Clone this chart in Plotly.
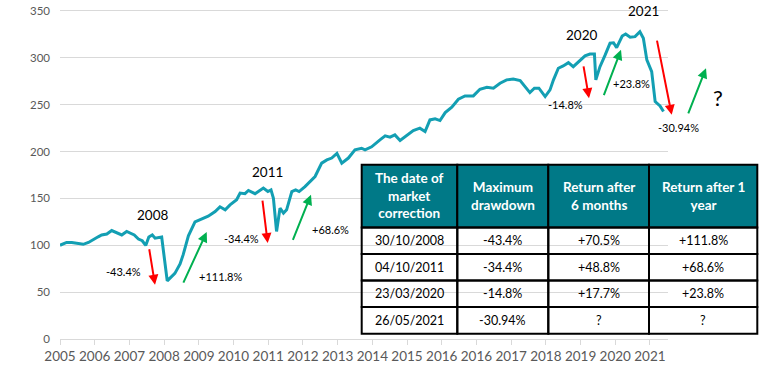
import plotly.graph_objects as go

# ---------------- data ----------------
tick_labels = ["2005", "2006", "2007", "2008", "2009", "2010", "2011", "2012", "2013",
               "2014", "2015", "2016", "2016", "2017", "2018", "2019", "2020", "2021"]

# position along the category axis (one unit per label) and index value
t_pos = [0.00, 0.19, 0.34, 0.58, 0.67, 0.82, 1.01, 1.10, 1.20, 1.35, 1.49, 1.63, 1.78, 1.92,
         2.02, 2.14, 2.26, 2.37, 2.47, 2.56, 2.66, 2.74, 2.93, 3.09, 3.31, 3.46, 3.55, 3.70,
         3.89, 4.08, 4.27, 4.47, 4.61, 4.76, 4.90, 5.09, 5.19, 5.33, 5.43, 5.62, 5.76, 5.86,
         5.99, 6.08, 6.15, 6.24, 6.34, 6.44, 6.53, 6.68, 6.79, 6.89, 7.06, 7.20, 7.35, 7.54,
         7.69, 7.83, 7.98, 8.12, 8.31, 8.50, 8.69, 8.79, 8.98, 9.22, 9.37, 9.51, 9.65, 9.80,
         9.99, 10.18, 10.37, 10.52, 10.66, 10.81, 10.95, 11.10, 11.29, 11.48, 11.67, 11.91,
         12.10, 12.30, 12.49, 12.68, 12.87, 13.06, 13.26, 13.40, 13.54, 13.67, 13.80, 13.98,
         14.12, 14.22, 14.36, 14.50, 14.65, 14.79, 14.94, 15.13, 15.27, 15.40, 15.44, 15.56,
         15.71, 15.85, 15.95, 16.04, 16.20, 16.30, 16.43, 16.57, 16.71, 16.81, 16.91, 17.05,
         17.15, 17.29, 17.39]
index_value = [100, 103, 103, 102, 101, 103, 107.6, 109, 111, 112, 115.7, 113.6, 111, 114.7,
               113, 111, 106.6, 104.8, 99.8, 108.7, 111, 107.6, 108.7, 62, 70, 80, 90, 110,
               125, 128, 131, 136, 141, 137.8, 143, 148.5, 155.6, 155, 158.4, 155, 158.4, 161,
               157.3, 159, 150, 114.7, 139.6, 134.3, 137.8, 157.3, 159, 157.3, 162.6, 168, 173.3,
               187.6, 191, 193, 198, 187.6, 193, 201.7, 203.5, 201.7, 205, 212.4, 216.7, 215.3,
               217.7, 211.7, 216.7, 222.3, 224.9, 221.3, 233.7, 234.8, 233, 241.5, 247.3, 255.8,
               259.3, 259.3, 266.4, 268.6, 267.5, 272.8, 276.4, 277.4, 275.6, 269.2, 262.8,
               267.5, 267.5, 258.6, 265.7, 276.4, 288.8, 291.3, 294.8, 290.5, 295.9, 302, 304,
               304, 276.4, 290.5, 303, 315.5, 316, 310.8, 323.2, 325.4, 321.9, 322.5, 327.8,
               320.8, 297.7, 285.2, 253.2, 248.6, 242.6]

y_ticks = [0, 50, 100, 150, 200, 250, 300, 350]

table_header = ["The date of<br>market<br>correction", "Maximum<br>drawdown",
                "Return after<br>6 months", "Return after 1<br>year"]
correction_dates = ["30/10/2008", "04/10/2011", "23/03/2020", "26/05/2021"]
max_drawdown = ["-43.4%", "-34.4%", "-14.8%", "-30.94%"]
return_6m = ["+70.5%", "+48.8%", "+17.7%", "?"]
return_1y = ["+111.8%", "+68.6%", "+23.8%", "?"]

year_labels = ["2008", "2011", "2020", "2021"]
pct_labels = ["-43.4%", "+111.8%", "-34.4%", "+68.6%", "-14.8%", "+23.8%", "-30.94%"]

# ---------------- layout geometry ----------------
OFF = 0          # body margin is removed by the post script below
W, H = 778, 382
Y_MAX = 352
PLOT_L, PLOT_B = 60, 339.3                  # on-screen plot-area edges
PX_PER_UNIT = (339.3 - 11.0) / 350
PLOT_T = PLOT_B - Y_MAX * PX_PER_UNIT
AX_RIGHT = 668
L = PLOT_L - OFF
T = PLOT_T - OFF
B = H - (PLOT_B - OFF)
R = 10
PW = W - L - R
PH = H - T - B

def px(x):
    return (x - OFF - L) / PW

def py(y):
    return (H - B - (y - OFF)) / PH

FONT = "Lato, Carlito, Calibri, 'Open Sans', sans-serif"
TEAL = "#139FB3"
HEAD = "#007987"
RED = "#FF0000"
GREEN = "#00B050"

fig = go.Figure()
fig.add_trace(go.Scatter(x=t_pos, y=index_value, mode="lines",
                         line=dict(color=TEAL, width=3), hoverinfo="skip",
                         showlegend=False))

annotations = []
shapes = []

# ---------------- table (shapes + text) ----------------
col_edges = [361.7, 457.3, 548.3, 649.0, 757.3]
row_edges = [165.0, 227.7, 254.3, 280.8, 307.4, 334.0]
columns = [correction_dates, max_drawdown, return_6m, return_1y]
for ci, head in enumerate(table_header):
    x0, x1 = col_edges[ci], col_edges[ci + 1]
    shapes.append(dict(type="rect", xref="paper", yref="paper", x0=px(x0), x1=px(x1),
                       y0=py(row_edges[1]), y1=py(row_edges[0]), fillcolor=HEAD,
                       line=dict(color="black", width=2), layer="above"))
    annotations.append(dict(x=px((x0 + x1) / 2), y=py((row_edges[0] + row_edges[1]) / 2 - 0.5),
                            xref="paper", yref="paper", text="<b>" + head + "</b>",
                            showarrow=False, align="center", xanchor="center", yanchor="middle",
                            font=dict(family=FONT, size=13.5, color="white")))
    for ri, val in enumerate(columns[ci]):
        y0, y1 = row_edges[ri + 1], row_edges[ri + 2]
        shapes.append(dict(type="rect", xref="paper", yref="paper", x0=px(x0), x1=px(x1),
                           y0=py(y1), y1=py(y0), line=dict(color="black", width=2),
                           layer="above"))
        annotations.append(dict(x=px((x0 + x1) / 2), y=py((y0 + y1) / 2), xref="paper",
                                yref="paper", text=val, showarrow=False, xanchor="center",
                                yanchor="middle",
                                font=dict(family=FONT, size=12.5, color="black")))

# text labels
year_pos = [(152, 215), (267, 172.5), (581.5, 35), (643, 11.5)]
for lab, (x, y) in zip(year_labels, year_pos):
    annotations.append(dict(x=px(x), y=py(y), xref="paper", yref="paper", text=lab,
                            showarrow=False, xanchor="center", yanchor="middle",
                            font=dict(family=FONT, size=13.5, color="black")))
pct_pos = [(123, 271.7), (220, 276.7), (241, 238.3), (330, 229.3), (565, 105),
           (631.7, 83.3), (678.3, 127.7)]
for lab, (x, y) in zip(pct_labels, pct_pos):
    annotations.append(dict(x=px(x), y=py(y), xref="paper", yref="paper", text=lab,
                            showarrow=False, xanchor="center", yanchor="middle",
                            font=dict(family=FONT, size=11, color="black")))
annotations.append(dict(x=px(718.3), y=py(97.3), xref="paper", yref="paper", text="?",
                        showarrow=False, xanchor="center", yanchor="middle",
                        font=dict(family=FONT, size=22, color="black")))

# arrows: (tail_x, tail_y, head_x, head_y, colour)
arrows = [(149, 248, 155, 285, RED), (182.7, 284.3, 206.7, 232.3, GREEN),
          (262.3, 199.3, 267.7, 243.3, RED), (292.3, 241.7, 311, 195, GREEN),
          (583.3, 65, 589, 98.3, RED), (603.3, 96.7, 621, 50, GREEN),
          (656.7, 39.3, 671.7, 115, RED), (687.7, 115, 706, 68.3, GREEN)]
for tx, ty, hx, hy, c in arrows:
    annotations.append(dict(x=px(hx), y=py(hy), xref="paper", yref="paper", text="",
                            showarrow=True, ax=tx - hx, ay=ty - hy, axref="pixel",
                            ayref="pixel", arrowcolor=c, arrowwidth=2, arrowhead=2,
                            arrowsize=1, standoff=0, startstandoff=0))

fig.update_layout(
    width=W, height=H,
    margin=dict(l=L, r=R, t=T, b=B, pad=0, autoexpand=False),
    paper_bgcolor="white", plot_bgcolor="white",
    showlegend=False,
    font=dict(family=FONT),
    xaxis=dict(domain=[0, (AX_RIGHT - PLOT_L) / PW], range=[0, 17.52],
               tickmode="array", tickvals=list(range(len(tick_labels))), ticktext=tick_labels,
               showgrid=False, zeroline=False, showline=True, linecolor="#D9D9D9", linewidth=1,
               ticks="outside", ticklen=5, tickcolor="#D9D9D9", ticklabelstandoff=0,
               tickfont=dict(family=FONT, size=13.5, color="#595959")),
    yaxis=dict(range=[0, Y_MAX], tickmode="array", tickvals=y_ticks,
               showgrid=True, gridcolor="#D9D9D9", gridwidth=1, zeroline=False,
               showline=False, ticks="", ticklabelstandoff=9, ticklabeloverflow="allow",
               tickfont=dict(family=FONT, size=11.5, color="#595959")),
    shapes=shapes,
    annotations=annotations,
)

fig.write_html("out.html", config={"displayModeBar": False, "staticPlot": True},
               post_script="document.body.style.margin='0';document.body.style.overflow='hidden';")
